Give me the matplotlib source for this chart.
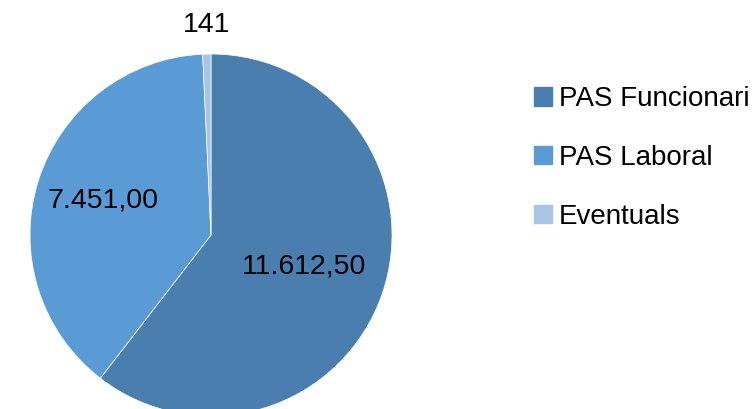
import matplotlib
matplotlib.use("Agg")
import matplotlib.pyplot as plt
import matplotlib.patches as mpatches
import numpy as np

categories = ["PAS Funcionari", "PAS Laboral", "Eventuals"]
values = [11612.50, 7451.00, 141]
value_labels = ["11.612,50", "7.451,00", "141"]
colors = ["#4A7EAF", "#5B9BD5", "#A9C4E6"]

plt.rcParams['font.family'] = ['Liberation Sans', 'DejaVu Sans']

W, H = 755, 409
fig = plt.figure(figsize=(W / 100, H / 100), dpi=100)
ax = fig.add_axes([0, 0, 1, 1])

cx, cy, r = 211, H - 235, 181
wedges, _ = ax.pie(values, colors=colors, startangle=90, counterclock=False,
                   center=(cx, cy), radius=r, frame=True,
                   wedgeprops=dict(edgecolor="white", linewidth=0.5))
ax.set_xlim(0, W)
ax.set_ylim(0, H)
ax.axis("off")

dists = [0.545, 0.625, 1.16]
for w, lab, d in zip(wedges, value_labels, dists):
    ang = np.deg2rad((w.theta1 + w.theta2) / 2)
    ax.text(cx + d * r * np.cos(ang), cy + d * r * np.sin(ang), lab,
            ha="center", va="center", fontsize=20.5, color="black")

handles = [mpatches.Patch(color=c, label=l) for c, l in zip(colors, categories)]
fig.legend(handles=handles, loc="upper left", bbox_to_anchor=(523 / W, 1 - 75 / H),
           frameon=False, fontsize=20, handlelength=0.65, handleheight=0.65,
           handletextpad=0.25, labelspacing=1.18, borderaxespad=0)

fig.savefig("out.png", dpi=100)
